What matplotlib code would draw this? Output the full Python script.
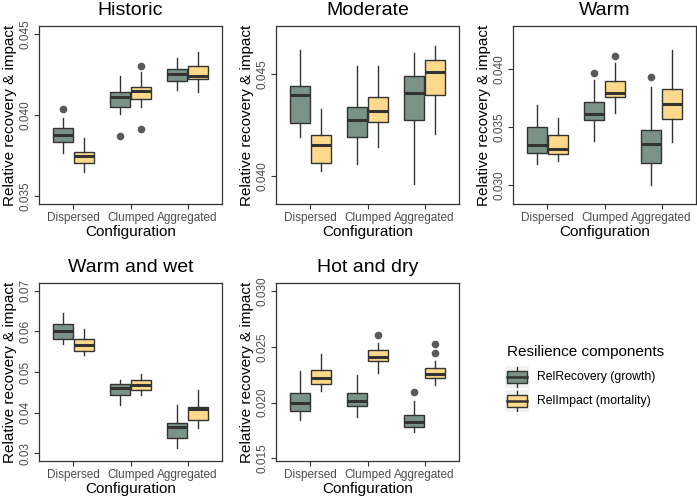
import matplotlib
matplotlib.use("Agg")
import matplotlib.pyplot as plt
from matplotlib.patches import Rectangle

plt.rcParams['font.family'] = ['Liberation Sans', 'DejaVu Sans']

categories = ["Dispersed", "Clumped", "Aggregated"]
series = ["RelRecovery (growth)", "RelImpact (mortality)"]
panels = ["Historic", "Moderate", "Warm", "Warm and wet", "Hot and dry"]

# per panel, per series: lists over categories [whislo, q1, med, q3, whishi]
historic_rec = [[0.03764, 0.03835, 0.03878, 0.03917, 0.03983],
                [0.04004, 0.04048, 0.04110, 0.04145, 0.04244],
                [0.04155, 0.04211, 0.04254, 0.04285, 0.04351]]
historic_imp = [[0.03649, 0.03705, 0.03744, 0.03773, 0.03860],
                [0.04052, 0.04101, 0.04151, 0.04176, 0.04269],
                [0.04143, 0.04223, 0.04242, 0.04304, 0.04388]]
historic_rec_fl = [[0.04035], [0.03870], []]
historic_imp_fl = [[], [0.04302, 0.03911], []]

moderate_rec = [[0.04189, 0.04257, 0.04397, 0.04443, 0.04618],
                [0.04056, 0.04192, 0.04274, 0.04339, 0.04541],
                [0.03957, 0.04274, 0.04407, 0.04492, 0.04605]]
moderate_imp = [[0.04025, 0.04064, 0.04151, 0.04202, 0.04328],
                [0.04139, 0.04262, 0.04320, 0.04389, 0.04538],
                [0.04203, 0.04397, 0.04511, 0.04567, 0.04636]]
moderate_rec_fl = [[], [], []]
moderate_imp_fl = [[], [], []]

warm_rec = [[0.03178, 0.03273, 0.03342, 0.03500, 0.03687],
            [0.03382, 0.03560, 0.03615, 0.03716, 0.03905],
            [0.03000, 0.03187, 0.03353, 0.03471, 0.03842]]
warm_imp = [[0.03204, 0.03264, 0.03313, 0.03428, 0.03575],
            [0.03618, 0.03756, 0.03796, 0.03899, 0.04049],
            [0.03368, 0.03569, 0.03701, 0.03825, 0.04164]]
warm_rec_fl = [[], [0.03966], [0.03928]]
warm_imp_fl = [[], [0.04115], []]

wetwarm_rec = [[0.05682, 0.05805, 0.06002, 0.06191, 0.06462],
               [0.04187, 0.04425, 0.04598, 0.04713, 0.04811],
               [0.03127, 0.03382, 0.03653, 0.03743, 0.04187]]
wetwarm_imp = [[0.05419, 0.05526, 0.05657, 0.05813, 0.06060],
               [0.04425, 0.04548, 0.04680, 0.04795, 0.04943],
               [0.03620, 0.03817, 0.04080, 0.04146, 0.04556]]
wetwarm_rec_fl = [[], [], []]
wetwarm_imp_fl = [[], [], []]

hotdry_rec = [[0.01848, 0.01929, 0.01994, 0.02087, 0.02284],
              [0.01867, 0.01969, 0.02012, 0.02087, 0.02247],
              [0.01740, 0.01780, 0.01830, 0.01892, 0.02012]]
hotdry_imp = [[0.02108, 0.02164, 0.02216, 0.02291, 0.02439],
              [0.02269, 0.02374, 0.02405, 0.02467, 0.02532],
              [0.02161, 0.02223, 0.02254, 0.02309, 0.02374]]
hotdry_rec_fl = [[], [], [0.02096]]
hotdry_imp_fl = [[], [0.02606], [0.02523, 0.02445]]

yticks = [[0.035, 0.040, 0.045],
          [0.040, 0.045],
          [0.030, 0.035, 0.040],
          [0.03, 0.04, 0.05, 0.06, 0.07],
          [0.015, 0.020, 0.025, 0.030]]
ytick_labels = [["0.035", "0.040", "0.045"],
                ["0.040", "0.045"],
                ["0.030", "0.035", "0.040"],
                ["0.03", "0.04", "0.05", "0.06", "0.07"],
                ["0.015", "0.020", "0.025", "0.030"]]
ylims = [(0.03449, 0.04551), (0.03861, 0.04736), (0.02836, 0.04371),
         (0.02811, 0.07189), (0.01477, 0.03071)]

data = [(historic_rec, historic_imp, historic_rec_fl, historic_imp_fl),
        (moderate_rec, moderate_imp, moderate_rec_fl, moderate_imp_fl),
        (warm_rec, warm_imp, warm_rec_fl, warm_imp_fl),
        (wetwarm_rec, wetwarm_imp, wetwarm_rec_fl, wetwarm_imp_fl),
        (hotdry_rec, hotdry_imp, hotdry_rec_fl, hotdry_imp_fl)]

colors = ["#7b9287", "#fcd98b"]
line_col = "#333333"
W, H = 697, 499

fig = plt.figure(figsize=(W / 100, H / 100), dpi=100)

boxes_px = [(39, 222, 26, 204), (276, 459, 26, 204), (513, 696, 26, 204),
            (39, 222, 283, 461), (276, 459, 283, 461)]

offsets = [-0.185, 0.185]
bw = 0.35

for i, name in enumerate(panels):
    l, r, t, b = boxes_px[i]
    ax = fig.add_axes([l / W, 1 - b / H, (r - l) / W, (b - t) / H])
    rec, imp, rfl, ifl = data[i]
    for s, (vals, fls) in enumerate([(rec, rfl), (imp, ifl)]):
        stats = []
        for c in range(3):
            lo, q1, med, q3, hi = vals[c]
            stats.append(dict(whislo=lo, q1=q1, med=med, q3=q3, whishi=hi,
                              fliers=fls[c]))
        pos = [c + 1 + offsets[s] for c in range(3)]
        ax.bxp(stats, positions=pos, widths=bw, patch_artist=True,
               showcaps=False,
               boxprops=dict(facecolor=colors[s], edgecolor=line_col, linewidth=1.0),
               medianprops=dict(color=line_col, linewidth=2.2),
               whiskerprops=dict(color=line_col, linewidth=1.0),
               flierprops=dict(marker='o', markerfacecolor='#5a5a5a',
                               markeredgecolor='#5a5a5a', markersize=4.5),
               manage_ticks=False, zorder=3)
    ax.set_xlim(0.4, 3.6)
    ax.set_ylim(*ylims[i])
    ax.set_xticks([1, 2, 3])
    ax.set_xticklabels(categories, fontsize=8.5, color='#4d4d4d')
    ax.set_yticks(yticks[i])
    ax.set_yticklabels(ytick_labels[i], fontsize=8.5, color='#4d4d4d',
                       rotation=90, va='center')
    ax.tick_params(axis='both', length=3.5, width=0.8, color='#333333', pad=2)
    for sp in ax.spines.values():
        sp.set_color('#333333')
        sp.set_linewidth(0.9)
    ax.set_title(name, fontsize=14, pad=8)
    ax.set_xlabel("Configuration", fontsize=11, labelpad=1)
    ax.set_ylabel("Relative recovery & impact", fontsize=11, labelpad=2)

# legend
fig.text(507 / W, 1 - 352 / H, "Resilience components", fontsize=11,
         va='center', ha='left')
labels_y = [377, 401]
for s in range(2):
    y = labels_y[s]
    hax = fig.add_axes([505 / W, 1 - (y + 11) / H, 24 / W, 22 / H])
    hax.set_xlim(0, 24)
    hax.set_ylim(22, 0)
    hax.axis('off')
    hax.add_patch(Rectangle((0, 0), 24, 22, facecolor='#f2f2f2', edgecolor='none'))
    hax.plot([12, 12], [1, 21], color=line_col, lw=1.0)
    hax.add_patch(Rectangle((2, 5), 20, 12, facecolor=colors[s],
                            edgecolor=line_col, lw=1.0, zorder=3))
    hax.plot([2, 22], [11, 11], color=line_col, lw=1.8, zorder=4)
    fig.text(537 / W, 1 - y / H, series[s], fontsize=8.8, va='center', ha='left')

fig.savefig("out.png", dpi=100)
